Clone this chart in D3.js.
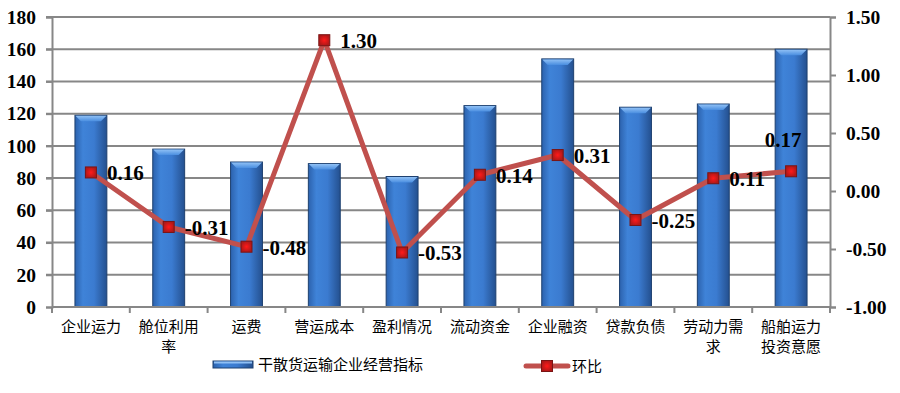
<!DOCTYPE html>
<html>
<head>
<meta charset="utf-8">
<script src="https://cdn.jsdelivr.net/npm/d3@7"></script>
<style>
  body { margin: 0; background: #fff; }
  svg { display: block; }
</style>
</head>
<body>
<div class="container"></div>
<script>
// chart data
var categories = ["企业运力", "舱位利用率", "运费", "营运成本", "盈利情况", "流动资金", "企业融资", "贷款负债", "劳动力需求", "船舶运力投资意愿"];
var catLines = [["企业运力"], ["舱位利用", "率"], ["运费"], ["营运成本"], ["盈利情况"], ["流动资金"], ["企业融资"], ["贷款负债"], ["劳动力需", "求"], ["船舶运力", "投资意愿"]];
var indexValues = [119, 98, 90, 89, 81, 125, 154, 124, 126, 160];
var changeValues = [0.16, -0.31, -0.48, 1.30, -0.53, 0.14, 0.31, -0.25, 0.11, 0.17];
var leftTicks = [0, 20, 40, 60, 80, 100, 120, 140, 160, 180];
var rightTicks = [-1.00, -0.50, 0.00, 0.50, 1.00, 1.50];
var seriesNames = ["干散货运输企业经营指标", "环比"];

const WIDTH = 900;
const HEIGHT = 393;
const PLOT = {left: 52, right: 830, top: 17, bottom: 307};

var svg = d3.select('.container').append('svg')
  .attr('width', WIDTH)
  .attr('height', HEIGHT);

var defs = svg.append('defs');
var barGrad = defs.append('linearGradient').attr('id', 'barGrad')
  .attr('x1', 0).attr('x2', 1).attr('y1', 0).attr('y2', 0);
barGrad.append('stop').attr('offset', '0%').attr('stop-color', '#2c62ad');
barGrad.append('stop').attr('offset', '25%').attr('stop-color', '#3f83d8');
barGrad.append('stop').attr('offset', '60%').attr('stop-color', '#3b7bd0');
barGrad.append('stop').attr('offset', '100%').attr('stop-color', '#24508f');

var topGrad = defs.append('linearGradient').attr('id', 'topGrad')
  .attr('x1', 0).attr('x2', 0).attr('y1', 0).attr('y2', 1);
topGrad.append('stop').attr('offset', '0%').attr('stop-color', '#8fc0f5');
topGrad.append('stop').attr('offset', '100%').attr('stop-color', '#4a8ee0');

var markGrad = defs.append('radialGradient').attr('id', 'markGrad');
markGrad.append('stop').attr('offset', '0%').attr('stop-color', '#ff1a1a');
markGrad.append('stop').attr('offset', '100%').attr('stop-color', '#b01818');

var xScale = d3.scaleBand()
  .domain(categories)
  .range([PLOT.left, PLOT.right])
  .paddingInner(0.59)
  .paddingOuter(0.295);

var yLeft = d3.scaleLinear().domain([0, 180]).range([PLOT.bottom, PLOT.top]);
var yRight = d3.scaleLinear().domain([-1, 1.5]).range([PLOT.bottom, PLOT.top]);

var gridColor = '#878787';
var serif = '"Liberation Serif", "Times New Roman", serif';
var fmt = function(d){ return d3.format('.2f')(d).replace('−', '-'); };

// gridlines
svg.append('g').selectAll('line')
  .data(leftTicks.filter(function(d){ return d > 0; }))
  .enter().append('line')
  .attr('x1', PLOT.left - 6).attr('x2', PLOT.right)
  .attr('y1', function(d){ return yLeft(d); })
  .attr('y2', function(d){ return yLeft(d); })
  .attr('stroke', gridColor).attr('stroke-width', 2);

// left axis
var leftAxis = d3.axisLeft(yLeft).tickValues(leftTicks).tickSize(6).tickPadding(10);
var gl = svg.append('g').attr('transform', 'translate(' + PLOT.left + ',0)').call(leftAxis);
gl.select('.domain').attr('stroke', gridColor).attr('stroke-width', 2);
gl.selectAll('.tick line').attr('stroke', gridColor).attr('stroke-width', 2);
gl.selectAll('.tick text')
  .attr('font-family', serif)
  .attr('font-weight', 'bold').attr('font-size', 19.5).attr('fill', '#000');

// right axis
var rightAxis = d3.axisRight(yRight).tickValues(rightTicks).tickSize(6).tickPadding(10);
var gr = svg.append('g').attr('transform', 'translate(' + PLOT.right + ',0)').call(rightAxis);
gr.select('.domain').attr('stroke', gridColor).attr('stroke-width', 2);
gr.selectAll('.tick line').attr('stroke', gridColor).attr('stroke-width', 2);
gr.selectAll('.tick text')
  .attr('font-family', serif)
  .attr('font-weight', 'bold').attr('font-size', 19.5).attr('fill', '#000')
  .text(fmt);

// bars
var bars = svg.append('g').selectAll('g.bar')
  .data(indexValues)
  .enter().append('g').attr('class', 'bar');

bars.append('rect')
  .attr('x', function(d, i){ return xScale(categories[i]); })
  .attr('y', function(d){ return yLeft(d); })
  .attr('width', xScale.bandwidth())
  .attr('height', function(d){ return yLeft(0) - yLeft(d); })
  .attr('fill', 'url(#barGrad)')
  .attr('stroke', '#1e406f').attr('stroke-width', 1);

bars.append('path')
  .attr('d', function(d, i){
    var x0 = xScale(categories[i]), w = xScale.bandwidth(), y0 = yLeft(d);
    return 'M' + (x0 + 0.5) + ',' + (y0 + 0.5) + 'L' + (x0 + w - 0.5) + ',' + (y0 + 0.5) +
      'L' + (x0 + w - 6) + ',' + (y0 + 6) + 'L' + (x0 + 6) + ',' + (y0 + 6) + 'Z';
  })
  .attr('fill', 'url(#topGrad)');

// x axis
svg.append('line')
  .attr('x1', PLOT.left).attr('x2', PLOT.right)
  .attr('y1', PLOT.bottom).attr('y2', PLOT.bottom)
  .attr('stroke', gridColor).attr('stroke-width', 2);

var step = xScale.step();
svg.append('g').selectAll('line')
  .data(d3.range(categories.length + 1))
  .enter().append('line')
  .attr('x1', function(i){ return PLOT.left + i * step; })
  .attr('x2', function(i){ return PLOT.left + i * step; })
  .attr('y1', PLOT.bottom).attr('y2', PLOT.bottom + 6)
  .attr('stroke', gridColor).attr('stroke-width', 2);

var xl = svg.append('g').selectAll('text')
  .data(catLines)
  .enter().append('text')
  .attr('font-family', '"Noto Sans CJK SC", sans-serif')
  .attr('font-size', 15).attr('fill', '#000')
  .attr('text-anchor', 'middle');
xl.each(function(lines, i){
  var t = d3.select(this);
  var cx = xScale(categories[i]) + xScale.bandwidth() / 2;
  lines.forEach(function(s, k){
    t.append('tspan').attr('x', cx).attr('y', 332 + k * 20).text(s);
  });
});

// line series
var cx = function(d, i){ return xScale(categories[i]) + xScale.bandwidth() / 2; };
var line = d3.line()
  .x(function(d, i){ return cx(d, i); })
  .y(function(d){ return yRight(d); });

svg.append('path')
  .datum(changeValues)
  .attr('d', line)
  .attr('fill', 'none')
  .attr('stroke', '#c0504d')
  .attr('stroke-width', 5)
  .attr('stroke-linejoin', 'round');

svg.append('g').selectAll('rect')
  .data(changeValues)
  .enter().append('rect')
  .attr('x', function(d, i){ return cx(d, i) - 5.5; })
  .attr('y', function(d){ return yRight(d) - 5.5; })
  .attr('width', 11).attr('height', 11)
  .attr('fill', 'url(#markGrad)')
  .attr('stroke', '#7a1414').attr('stroke-width', 1);

// data labels (last one sits above its point)
svg.append('g').selectAll('text')
  .data(changeValues)
  .enter().append('text')
  .attr('x', function(d, i){ return i === 9 ? cx(d, i) - 8 : cx(d, i) + 16; })
  .attr('y', function(d, i){ return i === 9 ? yRight(d) - 24 : yRight(d) + 8; })
  .attr('text-anchor', function(d, i){ return i === 9 ? 'middle' : 'start'; })
  .attr('font-family', serif)
  .attr('font-weight', 'bold').attr('font-size', 21).attr('fill', '#000')
  .text(fmt);

// legend
var lg = svg.append('g');
lg.append('rect').attr('x', 213).attr('y', 361).attr('width', 40).attr('height', 7)
  .attr('fill', 'url(#barGrad)').attr('stroke', '#1e406f').attr('stroke-width', 1);
lg.append('rect').attr('x', 214).attr('y', 361.5).attr('width', 38).attr('height', 2)
  .attr('fill', '#8fc0f5');
lg.append('text').attr('x', 258).attr('y', 370)
  .attr('font-family', '"Noto Sans CJK SC", sans-serif').attr('font-size', 15)
  .text(seriesNames[0]);
lg.append('line').attr('x1', 526).attr('x2', 568).attr('y1', 366).attr('y2', 366)
  .attr('stroke', '#c0504d').attr('stroke-width', 5).attr('stroke-linecap', 'round');
lg.append('rect').attr('x', 541.5).attr('y', 360.5).attr('width', 11).attr('height', 11)
  .attr('fill', 'url(#markGrad)').attr('stroke', '#7a1414').attr('stroke-width', 1);
lg.append('text').attr('x', 572).attr('y', 372)
  .attr('font-family', '"Noto Sans CJK SC", sans-serif').attr('font-size', 15)
  .text(seriesNames[1]);
</script>
</body>
</html>
